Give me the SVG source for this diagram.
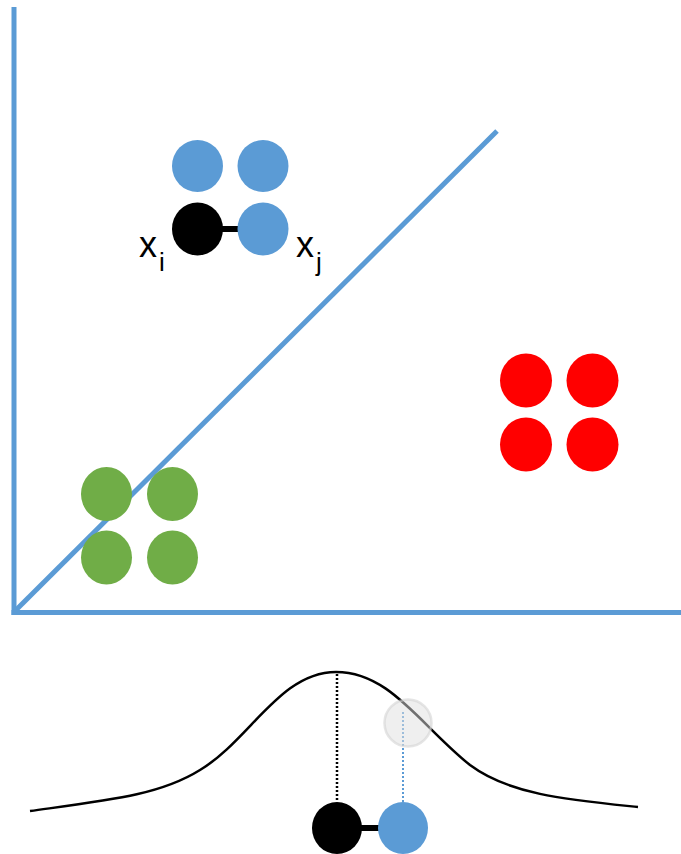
<svg xmlns="http://www.w3.org/2000/svg" width="681" height="854" viewBox="0 0 681 854">
<style>
.axis{stroke:#5B9BD5;stroke-width:5;fill:none}
.blue{fill:#5B9BD5}
.black{fill:#000}
.red{fill:#FF0000}
.green{fill:#70AD47}
.bar{stroke:#000;stroke-width:6}
.lbl{font-family:"Liberation Sans",Arial,sans-serif;fill:#000}
</style>
<rect width="681" height="854" fill="#fff"/>
<g id="connectors">
<line class="axis" x1="14" y1="7" x2="14" y2="615"/>
<line class="axis" x1="11.5" y1="612.5" x2="681" y2="612.5"/>
<line class="axis" x1="15" y1="611" x2="497" y2="131"/>
<line class="bar" x1="220" y1="229" x2="240" y2="229"/>
<path d="M30,811 C110,800 160,795 200,770 C250,740 280,672 336,672 C390,672 420,725 470,765 C510,795 570,800 638,807" fill="none" stroke="#000" stroke-width="2.5"/>
<line x1="337" y1="674" x2="337" y2="802" stroke="#000" stroke-width="2.5" stroke-dasharray="2,2"/>
<line x1="403" y1="712" x2="403" y2="802" stroke="#5B9BD5" stroke-width="2" stroke-dasharray="2,2"/>
<line class="bar" x1="360" y1="828" x2="380" y2="828"/>
</g>
<g id="blue-cluster">
<ellipse class="blue" cx="197.5" cy="166" rx="25.5" ry="26"/>
<ellipse class="blue" cx="263" cy="166" rx="25.5" ry="26"/>
<ellipse id="xi" class="black" cx="197.5" cy="229" rx="25.5" ry="26.5"/>
<ellipse id="xj" class="blue" cx="263" cy="229" rx="25.5" ry="26.5"/>
</g>
<g id="labels">
<text class="lbl" x="139" y="257" font-size="36">x</text>
<text class="lbl" x="159" y="271" font-size="26">i</text>
<text class="lbl" x="296" y="257" font-size="36">x</text>
<text class="lbl" x="316" y="271" font-size="26">j</text>
</g>
<g id="red-cluster">
<ellipse class="red" cx="526" cy="380.5" rx="26" ry="27"/>
<ellipse class="red" cx="592.5" cy="380.5" rx="26" ry="27"/>
<ellipse class="red" cx="526" cy="444.5" rx="26" ry="27"/>
<ellipse class="red" cx="592.5" cy="444.5" rx="26" ry="27"/>
</g>
<g id="green-cluster">
<ellipse class="green" cx="106.5" cy="494" rx="25.5" ry="27"/>
<ellipse class="green" cx="172.5" cy="494" rx="25.5" ry="27"/>
<ellipse class="green" cx="106.5" cy="557.5" rx="25.5" ry="27"/>
<ellipse class="green" cx="172.5" cy="557.5" rx="25.5" ry="27"/>
</g>
<g id="projection">
<circle cx="408" cy="723" r="23.5" fill="#e0e0e0" fill-opacity="0.5" stroke="#d4d4d4" stroke-opacity="0.6" stroke-width="2.5"/>
<ellipse class="black" cx="337" cy="828" rx="25" ry="26"/>
<ellipse class="blue" cx="403" cy="828" rx="25" ry="26"/>
</g>
</svg>
